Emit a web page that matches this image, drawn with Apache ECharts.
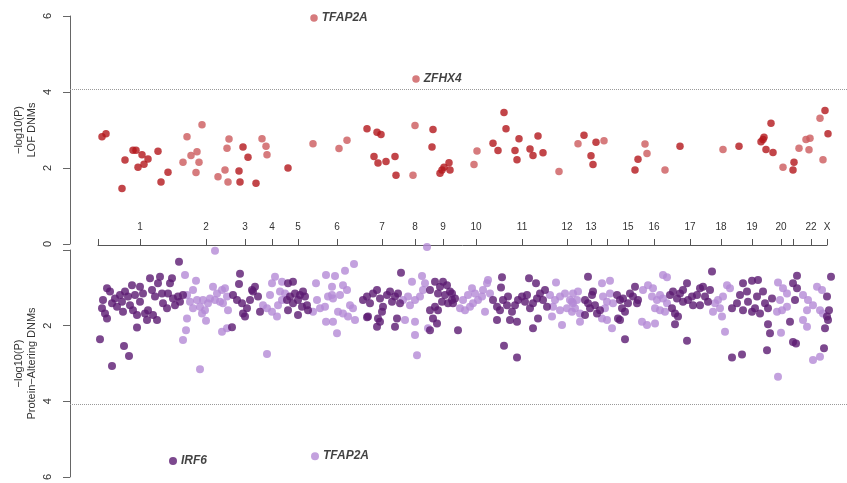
<!DOCTYPE html>
<html>
<head>
<meta charset="utf-8">
<script src="https://cdn.jsdelivr.net/npm/echarts@6/dist/echarts.min.js"></script>
<style>
  html, body { margin: 0; padding: 0; background: #fff; }
  #miami { width: 847px; height: 483px; }
</style>
</head>
<body>
<div id="miami"></div>
<script>
// chromosome tick positions (cumulative position units) and their labels
const chromTicks = [42, 108, 147, 174, 200, 239, 284, 317, 345, 378, 424, 469, 493, 509, 530, 556, 592, 623, 654, 683, 695, 713, 729]
const chromLabels = ['1', '2', '3', '4', '5', '6', '7', '8', '9', '10', '11', '12', '13', '', '15', '16', '17', '18', '19', '20', '', '22', 'X']
const threshold = 4.08

// LOF DNMs (top panel): [position, -log10(P)]
const lofDark = [
  [4, 2.82], [8, 2.90], [24, 1.46], [27, 2.21], [35, 2.47], [38, 2.47], [44, 2.35], [40, 2.02], [46, 2.10], [50, 2.24], [60, 2.44], [63, 1.63], [70, 1.89],
  [141, 1.92], [142, 1.63], [145, 2.55], [150, 2.28], [158, 1.60],
  [190, 2.00],
  [269, 3.03], [279, 2.94], [283, 2.88], [276, 2.30], [280, 2.13], [288, 2.17], [297, 2.30], [298, 1.81],
  [335, 3.01], [334, 2.55], [342, 1.86], [344, 1.95], [346, 2.02], [351, 2.14], [352, 1.95],
  [395, 2.65], [400, 2.46], [406, 3.46], [408, 3.03], [417, 2.46], [419, 2.22], [421, 2.77], [432, 2.50], [435, 2.33], [440, 2.84], [445, 2.40],
  [486, 2.86], [493, 2.32], [495, 2.09], [498, 2.68],
  [537, 1.95], [540, 2.23],
  [582, 2.57],
  [641, 2.57], [663, 2.69], [665, 2.75], [666, 2.81], [673, 3.18], [668, 2.49], [675, 2.41],
  [695, 1.95], [696, 2.15],
  [727, 3.51], [730, 2.90]
]
const lofLight = [
  [85, 2.15], [89, 2.82], [93, 2.33], [98, 1.88], [99, 2.43], [101, 2.15], [104, 3.14], [120, 1.77], [127, 1.95], [129, 2.52], [131, 2.76], [130, 1.63],
  [164, 2.77], [168, 2.57], [169, 2.35],
  [215, 2.64], [241, 2.51], [249, 2.73],
  [315, 1.81], [317, 3.12],
  [376, 2.09], [379, 2.45],
  [461, 1.91], [480, 2.64],
  [506, 2.72],
  [547, 2.63], [549, 2.38], [567, 1.95],
  [625, 2.49],
  [685, 2.02],
  [701, 2.52], [708, 2.75], [712, 2.78], [711, 2.48], [722, 3.31], [725, 2.22]
]
const lofHitNames = ['TFAP2A', 'ZFHX4']
const lofHitValues = [[216, 5.95], [318, 4.34]]

// Protein-altering DNMs (bottom panel)
const paDark = [
  [81, 0.31], [2, 2.36], [14, 3.07], [26, 2.54], [31, 2.80], [39, 2.05],
  [9, 1.01], [12, 1.10], [5, 1.32], [4, 1.54], [7, 1.68], [9, 1.81], [14, 1.41], [17, 1.28], [19, 1.50], [22, 1.19], [24, 1.37], [25, 1.63], [27, 1.10], [30, 1.23],
  [32, 1.46], [34, 0.93], [35, 1.59], [37, 1.19], [39, 1.72], [42, 1.37], [42, 0.97], [45, 1.15], [47, 1.68], [49, 1.85], [50, 1.59], [52, 0.75], [54, 1.06], [55, 1.72],
  [57, 1.23], [59, 1.85], [60, 0.88], [62, 0.71], [64, 1.15], [65, 1.41], [69, 1.54], [70, 1.15], [72, 0.88], [74, 0.75], [75, 1.28], [77, 1.46], [80, 1.23], [82, 1.37], [85, 1.19],
  [134, 2.04], [142, 0.63], [141, 0.90], [135, 1.19], [139, 1.32], [144, 1.41], [145, 1.68], [149, 1.54], [152, 1.32], [154, 1.06], [157, 0.97], [155, 1.10], [160, 1.23], [162, 1.63], [147, 1.76],
  [190, 0.88], [195, 0.84], [189, 1.32], [192, 1.23], [195, 1.41], [197, 1.15], [200, 1.32], [202, 1.19], [205, 1.10], [207, 1.23], [209, 1.46], [210, 1.59], [204, 1.50], [200, 1.72], [190, 1.59],
  [303, 0.60], [265, 1.32], [269, 1.23], [272, 1.41], [275, 1.15], [279, 1.06], [282, 1.28], [285, 1.50], [289, 1.19], [292, 1.10], [294, 1.37], [297, 1.23], [300, 1.15],
  [302, 1.41], [284, 1.63], [270, 1.76], [280, 1.81], [282, 1.90], [299, 1.81], [297, 2.03], [269, 1.78], [279, 2.03],
  [337, 0.84], [345, 0.84], [349, 0.93], [342, 0.97], [332, 1.06], [340, 1.15], [347, 1.19], [352, 1.10], [332, 1.59], [337, 1.50], [340, 1.59], [344, 1.37], [350, 1.41],
  [354, 1.32], [335, 1.81], [339, 1.94], [332, 2.12], [354, 1.15], [357, 1.28], [355, 1.41], [360, 2.12],
  [404, 0.72], [403, 0.99], [431, 0.75], [438, 0.88], [395, 1.32], [399, 1.50], [402, 1.59], [405, 1.32], [409, 1.46], [410, 1.23], [414, 1.63], [417, 1.46], [420, 1.32],
  [424, 1.23], [427, 1.37], [429, 1.19], [432, 1.54], [435, 1.41], [439, 1.28], [442, 1.15], [445, 1.32], [449, 1.50], [447, 1.06], [412, 1.85], [419, 1.90], [399, 1.85],
  [440, 1.81], [435, 2.07], [406, 2.53], [419, 2.84],
  [490, 0.71], [487, 1.32], [490, 1.41], [494, 1.19], [495, 1.10], [492, 1.54], [497, 1.46], [499, 1.68], [502, 1.59], [487, 1.72],
  [519, 1.19], [522, 1.32], [525, 1.28], [524, 1.54], [527, 1.63], [530, 1.41], [532, 1.15], [535, 1.23], [537, 0.97], [539, 1.41], [540, 1.32], [520, 1.81], [522, 1.85], [527, 2.36],
  [572, 1.19], [575, 1.10], [579, 1.28], [582, 1.15], [585, 1.06], [589, 0.88], [585, 1.37], [590, 1.32], [594, 1.23], [595, 1.46], [574, 1.54], [577, 1.68], [580, 1.76],
  [577, 1.96], [589, 2.40], [599, 1.19], [602, 1.01], [605, 0.97], [607, 1.23], [602, 1.46], [610, 1.37], [612, 1.06], [614, 0.57],
  [645, 0.88], [654, 0.81], [660, 0.79], [634, 1.54], [639, 1.41], [642, 1.19], [645, 1.59], [649, 1.10], [650, 1.37], [654, 1.63], [657, 1.54], [659, 1.23], [662, 1.68],
  [665, 1.10], [667, 1.41], [670, 1.54], [674, 1.28], [670, 1.96], [672, 2.20], [669, 2.65], [634, 2.84], [644, 2.76],
  [699, 0.68], [695, 0.88], [699, 1.01], [697, 1.32], [692, 1.90], [695, 2.43], [698, 2.47],
  [733, 0.71], [729, 1.23], [731, 1.59], [729, 1.76], [730, 1.85], [727, 2.07], [726, 2.60]
]
const paLight = [
  [87, 0.66], [98, 0.81], [89, 1.19], [95, 1.06], [92, 1.37], [99, 1.32], [105, 1.32], [110, 1.41], [102, 1.50], [95, 1.54], [107, 1.59], [112, 1.28], [104, 1.68],
  [108, 1.87], [89, 1.81], [88, 2.12], [85, 2.38], [102, 3.15], [117, 0.02], [115, 0.97], [119, 1.15], [124, 1.06], [127, 1.01], [117, 1.32], [122, 1.37], [129, 1.23],
  [130, 1.59], [125, 1.41], [124, 2.16], [129, 2.07],
  [174, 0.88], [177, 0.71], [184, 0.84], [172, 1.19], [165, 1.46], [169, 1.54], [174, 1.63], [179, 1.76], [180, 1.46], [184, 1.32], [182, 1.10], [187, 1.15], [169, 2.75],
  [218, 0.88], [228, 0.66], [219, 1.32], [222, 1.54], [227, 1.50], [230, 1.23], [234, 1.19], [228, 1.90], [235, 1.90], [215, 1.63], [256, 0.37], [247, 0.55], [237, 0.69],
  [234, 0.97], [245, 0.93], [249, 1.06], [242, 1.19], [235, 1.28], [252, 1.46], [255, 1.54], [240, 1.63], [245, 1.68], [250, 1.76], [257, 1.85], [239, 2.20],
  [314, 0.84], [324, 0.69], [305, 1.32], [310, 1.23], [312, 1.46], [317, 1.32], [322, 1.23], [325, 1.06], [327, 0.88], [307, 1.85], [317, 1.90], [317, 2.25], [330, 2.07],
  [319, 2.78], [329, -0.08],
  [365, 1.32], [370, 1.19], [374, 1.01], [377, 1.15], [380, 1.32], [384, 1.23], [385, 1.06], [389, 0.88], [390, 0.79], [362, 1.54], [367, 1.59], [372, 1.50], [375, 1.41],
  [387, 1.63], [392, 1.15],
  [458, 0.86], [452, 1.19], [457, 1.32], [462, 1.23], [467, 1.15], [472, 1.32], [475, 1.41], [455, 1.50], [462, 1.59], [469, 1.54], [474, 1.63], [454, 1.76], [464, 1.98],
  [475, 1.15], [480, 1.10], [474, 1.37], [479, 1.32], [477, 1.54], [482, 1.68], [482, 1.90],
  [504, 0.88], [512, 0.81], [505, 1.23], [509, 1.37], [512, 1.15], [515, 1.41], [507, 1.54], [504, 1.81], [514, 2.07], [509, 1.85],
  [545, 1.06], [550, 0.93], [555, 1.01], [554, 1.23], [559, 1.32], [562, 1.19], [565, 1.28], [569, 1.41], [557, 1.54], [562, 1.59], [567, 1.63], [544, 1.90], [549, 1.98],
  [557, 1.94], [565, 0.66], [569, 0.72],
  [617, 1.41], [620, 1.32], [625, 1.23], [615, 1.63], [622, 1.54], [624, 1.76], [629, 0.93], [632, 1.01], [627, 2.16],
  [680, 0.86], [685, 1.01], [689, 1.15], [682, 1.32], [679, 1.63], [684, 1.59], [689, 1.50], [683, 2.19], [680, 3.35],
  [705, 1.19], [710, 1.32], [715, 1.46], [719, 0.97], [724, 1.06], [722, 1.59], [725, 1.68], [709, 1.59], [705, 1.85], [709, 2.03], [715, 2.91], [722, 2.82]
]
const paHitNames = ['IRF6', 'TFAP2A']
const paHitValues = [[75, 5.58], [217, 5.45]]

const RED_DARK = '#b3161b'
const RED_LIGHT = '#cc5a5c'
const PUR_DARK = '#5b1a72'
const PUR_LIGHT = '#b48ad6'
const FONT = 'Liberation Sans, Arial, Helvetica, sans-serif'

const chart = echarts.init(document.getElementById('miami'))

function yAxisFor (gridIndex, inverse, title, hideZero) {
  return {
    gridIndex: gridIndex,
    type: 'value',
    inverse: inverse,
    min: 0,
    max: 6,
    interval: 2,
    name: title,
    nameLocation: 'middle',
    nameRotate: 90,
    nameGap: 32,
    nameMoveOverlap: false,
    nameTextStyle: { fontFamily: FONT, fontSize: 11, color: '#333', lineHeight: 13 },
    axisLine: { show: true, onZero: false, lineStyle: { color: '#666', width: 1 } },
    axisTick: { show: true, length: 7, lineStyle: { color: '#666' } },
    axisLabel: {
      rotate: 90,
      margin: 17,
      fontFamily: FONT,
      fontSize: 11,
      color: '#333',
      formatter: function (v) { return (hideZero && v === 0) ? '' : String(v) }
    },
    splitLine: { show: false }
  }
}

function hitData (names, values, colors) {
  return names.map(function (n, i) {
    return { name: n, value: values[i], itemStyle: { color: colors[i] } }
  })
}

const hitLabel = {
  show: true,
  position: 'right',
  distance: 4,
  formatter: '{b}',
  fontFamily: FONT,
  fontSize: 12,
  fontWeight: 'bold',
  fontStyle: 'italic',
  color: '#111'
}

const thresholdLine = {
  silent: true,
  symbol: ['none', 'none'],
  label: { show: false },
  lineStyle: { type: 'dotted', color: '#9a9a9a', width: 1 },
  data: [{ yAxis: threshold }]
}

const tickLabelValues = chromTicks.filter(function (v, i) { return chromLabels[i] !== '' })

chart.setOption({
  animation: false,
  backgroundColor: '#fff',
  grid: [
    { left: 70, right: 0, top: 16, height: 228 },
    { left: 70, right: 0, top: 250, height: 227 },
    { left: 98, width: 729, top: 200, height: 45 }
  ],
  xAxis: [
    { gridIndex: 0, type: 'value', min: -28, max: 749, show: false },
    { gridIndex: 1, type: 'value', min: -28, max: 749, show: false },
    {
      gridIndex: 2,
      type: 'value',
      min: 0,
      max: 729,
      axisLine: { show: true, lineStyle: { color: '#555', width: 1 } },
      axisTick: { show: true, inside: true, length: 6, customValues: [0].concat(chromTicks), lineStyle: { color: '#555' } },
      axisLabel: {
        inside: true,
        margin: 13,
        customValues: tickLabelValues,
        fontFamily: FONT,
        fontSize: 10,
        color: '#333',
        formatter: function (v) { return chromLabels[chromTicks.indexOf(v)] }
      },
      splitLine: { show: false }
    }
  ],
  yAxis: [
    yAxisFor(0, false, '\u2212log10(P)\nLOF DNMs', false),
    yAxisFor(1, true, '\u2212log10(P)\nProtein\u2212Altering DNMs', true),
    { gridIndex: 2, type: 'value', show: false }
  ],
  series: [
    {
      type: 'scatter', xAxisIndex: 0, yAxisIndex: 0, symbolSize: 7.5, clip: false,
      itemStyle: { color: RED_DARK }, data: lofDark, markLine: thresholdLine
    },
    {
      type: 'scatter', xAxisIndex: 0, yAxisIndex: 0, symbolSize: 7.5, clip: false,
      itemStyle: { color: RED_LIGHT }, data: lofLight
    },
    {
      type: 'scatter', xAxisIndex: 0, yAxisIndex: 0, symbolSize: 7.5, clip: false,
      label: hitLabel, data: hitData(lofHitNames, lofHitValues, [RED_LIGHT, RED_LIGHT])
    },
    {
      type: 'scatter', xAxisIndex: 1, yAxisIndex: 1, symbolSize: 8, clip: false,
      itemStyle: { color: PUR_LIGHT }, data: paLight, markLine: thresholdLine
    },
    {
      type: 'scatter', xAxisIndex: 1, yAxisIndex: 1, symbolSize: 8, clip: false,
      itemStyle: { color: PUR_DARK }, data: paDark
    },
    {
      type: 'scatter', xAxisIndex: 1, yAxisIndex: 1, symbolSize: 8, clip: false,
      label: hitLabel, data: hitData(paHitNames, paHitValues, [PUR_DARK, PUR_LIGHT])
    }
  ]
})
</script>
</body>
</html>
